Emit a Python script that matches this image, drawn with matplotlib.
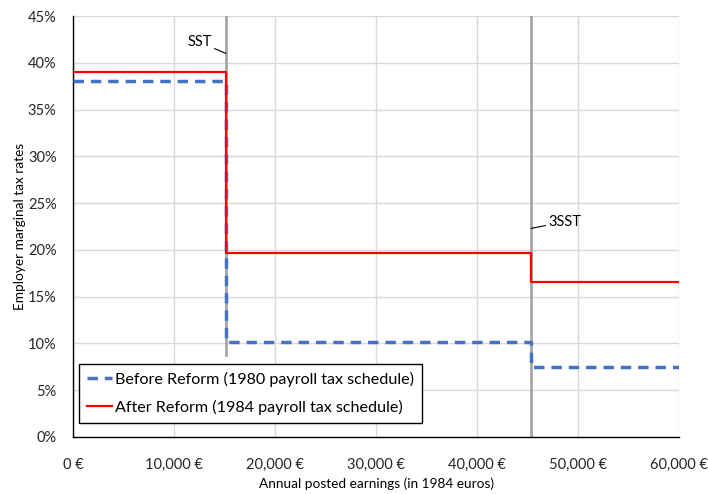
import numpy as np
import matplotlib
matplotlib.use('Agg')
import matplotlib.pyplot as plt
from matplotlib.ticker import FuncFormatter

plt.rcParams['font.family'] = ['Lato', 'DejaVu Sans']

# thresholds (1984 euros)
sst = 15120
sst3 = 45360
x_edges = [0, sst, sst3, 60000]

# employer marginal tax rates (%)
before_rates = [38.0, 10.2, 7.5, 7.5]
after_rates = [39.0, 19.7, 16.55, 16.55]

x_ticks = [0, 10000, 20000, 30000, 40000, 50000, 60000]
y_ticks = [0, 5, 10, 15, 20, 25, 30, 35, 40, 45]

fig = plt.figure(figsize=(7.08, 4.94), dpi=100)
ax = fig.add_axes([0.1035, 0.1154, 0.8555, 0.8522])

# gray threshold lines
ax.plot([sst, sst], [8.8, 45], color='#A6A6A6', linewidth=2, zorder=2)
ax.plot([sst3, sst3], [0, 45], color='#A6A6A6', linewidth=2, zorder=2)

ax.plot(x_edges, before_rates, drawstyle='steps-post', color='#4472C4',
        linewidth=2.5, dashes=(3, 2), label='Before Reform (1980 payroll tax schedule)', zorder=3)
ax.plot(x_edges, after_rates, drawstyle='steps-post', color='#FF0000',
        linewidth=1.6, label='After Reform (1984 payroll tax schedule)', zorder=4)

ax.annotate('SST', xy=(sst, 41.0), xytext=(sst - 1400, 42.2), fontsize=10.5,
            ha='right', va='center',
            arrowprops=dict(arrowstyle='-', color='black', linewidth=0.8, shrinkA=0, shrinkB=0))
ax.annotate('3SST', xy=(sst3, 22.3), xytext=(sst3 + 1700, 23.0), fontsize=10.5,
            ha='left', va='center',
            arrowprops=dict(arrowstyle='-', color='black', linewidth=0.8, shrinkA=0, shrinkB=0))

ax.set_xlim(0, 60000)
ax.set_ylim(0, 45)
ax.set_xticks(x_ticks)
ax.set_yticks(y_ticks)
ax.xaxis.set_major_formatter(FuncFormatter(lambda v, p: '{:,.0f} €'.format(v)))
ax.yaxis.set_major_formatter(FuncFormatter(lambda v, p: '{:.0f}%'.format(v)))
ax.tick_params(axis='both', length=0, labelsize=10.5, colors='#262626')
ax.tick_params(axis='x', pad=15)
ax.tick_params(axis='y', pad=12)
ax.grid(True, color='#D9D9D9', linewidth=1)
ax.set_axisbelow(True)
for s in ['top', 'right']:
    ax.spines[s].set_visible(False)
ax.spines['left'].set_color('black')
ax.spines['bottom'].set_color('black')
ax.spines['left'].set_linewidth(1)
ax.spines['bottom'].set_linewidth(1)

ax.set_xlabel('Annual posted earnings (in 1984 euros)', fontsize=9.8, labelpad=4)
ax.set_ylabel('Employer marginal tax rates', fontsize=9.8, labelpad=1)

leg = ax.legend(loc='lower left', bbox_to_anchor=(0.01, 0.033), borderaxespad=0,
                fontsize=11.6, frameon=True, fancybox=False, framealpha=1,
                edgecolor='black', handlelength=1.5, handletextpad=0.2,
                labelspacing=0.8, borderpad=0.5)
leg.get_frame().set_linewidth(1)
leg.set_zorder(5)

fig.savefig('out.png', dpi=100)
